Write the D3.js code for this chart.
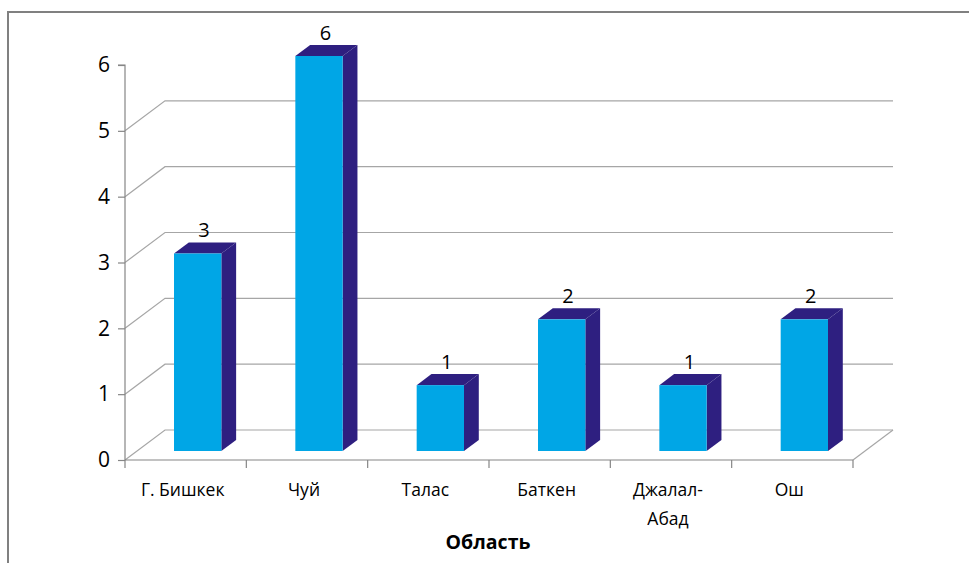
<!DOCTYPE html>
<html>
<head>
<meta charset="utf-8">
<script src="https://cdn.jsdelivr.net/npm/d3@7"></script>
<style>
  html, body { margin: 0; padding: 0; background: #ffffff; }
  svg { display: block; }
  text { font-family: "Open Sans", "Noto Sans", sans-serif; fill: #000; }
</style>
</head>
<body>
<svg id="chart" width="969" height="563"></svg>
<script>
// Regions and counts
const categories = ["Г. Бишкек", "Чуй", "Талас", "Баткен", "Джалал-Абад", "Ош"];
const categoryLines = [["Г. Бишкек"], ["Чуй"], ["Талас"], ["Баткен"], ["Джалал-", "Абад"], ["Ош"]];
const values = [3, 6, 1, 2, 1, 2];
const yTicks = [0, 1, 2, 3, 4, 5, 6];
const gridValues = [0, 1, 2, 3, 4, 5];
const axisTitle = "Область";

const svg = d3.select("#chart");

// Front plane of the 3D plot and depth offset of the back wall
const x = d3.scaleBand().domain(categories).range([125, 853]).paddingInner(0).paddingOuter(0);
const y = d3.scaleLinear().domain([0, 6]).range([460, 65]);
const depth = { dx: 40, dy: -30 };
const z0 = 0.3, z1 = 0.67;            // bar front/back depth fractions
const barHalf = x.bandwidth() * 0.195;

const gridColor = "#a6a6a6";
const axisColor = "#868686";
const frontColor = "#00a6e6";
const sideColor = "#2e1f80";

// Chart frame
svg.append("path")
  .attr("d", "M8,563 L8,12 L969,12")
  .attr("fill", "none").attr("stroke", "#808080").attr("stroke-width", 2);

const x0 = x.range()[0], x1 = x.range()[1];

// Back-wall and side-wall gridlines
const grid = svg.append("g");
gridValues.forEach(v => {
  const yf = y(v), yb = y(v) + depth.dy;
  grid.append("path")
    .attr("d", `M${x0},${yf} L${x0 + depth.dx},${yb} L${x1 + depth.dx},${yb}`)
    .attr("fill", "none").attr("stroke", gridColor).attr("stroke-width", 1.2);
});

// Floor front-right edge
svg.append("path")
  .attr("d", `M${x1},${y(0)} L${x1 + depth.dx},${y(0) + depth.dy}`)
  .attr("fill", "none").attr("stroke", gridColor).attr("stroke-width", 1.2);

// Value axis
const yAxis = d3.axisLeft(y).tickValues(yTicks).tickSize(7).tickPadding(8).tickFormat(d3.format("d"));
const gy = svg.append("g").attr("transform", `translate(${x0},0)`).call(yAxis);
gy.select(".domain").attr("stroke", axisColor).attr("stroke-width", 1.2).attr("d", `M-7,${y(6)}H0V${y(0)}`);
gy.selectAll(".tick line").attr("stroke", axisColor).attr("stroke-width", 1.2);
gy.selectAll(".tick text").attr("font-size", 21).attr("font-family", "Open Sans, sans-serif").attr("fill", "#000");

// Category axis
const gx = svg.append("g").attr("transform", `translate(0,${y(0)})`);
gx.append("line").attr("x1", x0).attr("x2", x1).attr("y1", 0).attr("y2", 0)
  .attr("stroke", axisColor).attr("stroke-width", 1.2);
const boundaries = categories.map(c => x(c)).concat([x1]);
gx.selectAll("line.tk").data(boundaries).join("line").attr("class", "tk")
  .attr("x1", d => d).attr("x2", d => d).attr("y1", 0).attr("y2", 8)
  .attr("stroke", axisColor).attr("stroke-width", 1.2);

const labels = gx.selectAll("text.cat").data(categories).join("text").attr("class", "cat")
  .attr("x", d => x(d) + x.bandwidth() / 2 - 3)
  .attr("text-anchor", "middle")
  .attr("font-size", 17.5);
labels.each(function(d, i) {
  const t = d3.select(this);
  categoryLines[i].forEach((line, j) => {
    t.append("tspan").attr("x", x(d) + x.bandwidth() / 2 - 3).attr("y", 36 + j * 29).text(line);
  });
});

// Bars: side face, top face, front face
const bars = svg.append("g");
categories.forEach((c, i) => {
  const v = values[i];
  const cx = x(c) + x.bandwidth() / 2;
  const fx0 = cx - barHalf + z0 * depth.dx, fx1 = cx + barHalf + z0 * depth.dx;
  const fyb = y(0) + z0 * depth.dy, fyt = y(v) + z0 * depth.dy;
  const ddx = (z1 - z0) * depth.dx, ddy = (z1 - z0) * depth.dy;

  bars.append("path")
    .attr("d", `M${fx1},${fyb} L${fx1 + ddx},${fyb + ddy} L${fx1 + ddx},${fyt + ddy} L${fx1},${fyt} Z`)
    .attr("fill", sideColor);
  bars.append("path")
    .attr("d", `M${fx0},${fyt} L${fx0 + ddx},${fyt + ddy} L${fx1 + ddx},${fyt + ddy} L${fx1},${fyt} Z`)
    .attr("fill", sideColor);
  bars.append("rect")
    .attr("x", fx0).attr("y", fyt).attr("width", fx1 - fx0).attr("height", fyb - fyt)
    .attr("fill", frontColor);

  // Value label above the bar
  bars.append("text")
    .attr("x", cx + z0 * depth.dx + ddx / 2 - 1)
    .attr("y", fyt + ddy - 5)
    .attr("text-anchor", "middle")
    .attr("font-size", 20)
    .text(v);
});

// Axis title
svg.append("text")
  .attr("x", 488).attr("y", 549)
  .attr("text-anchor", "middle")
  .attr("font-size", 19.5).attr("font-weight", "bold")
  .text(axisTitle);
</script>
</body>
</html>
